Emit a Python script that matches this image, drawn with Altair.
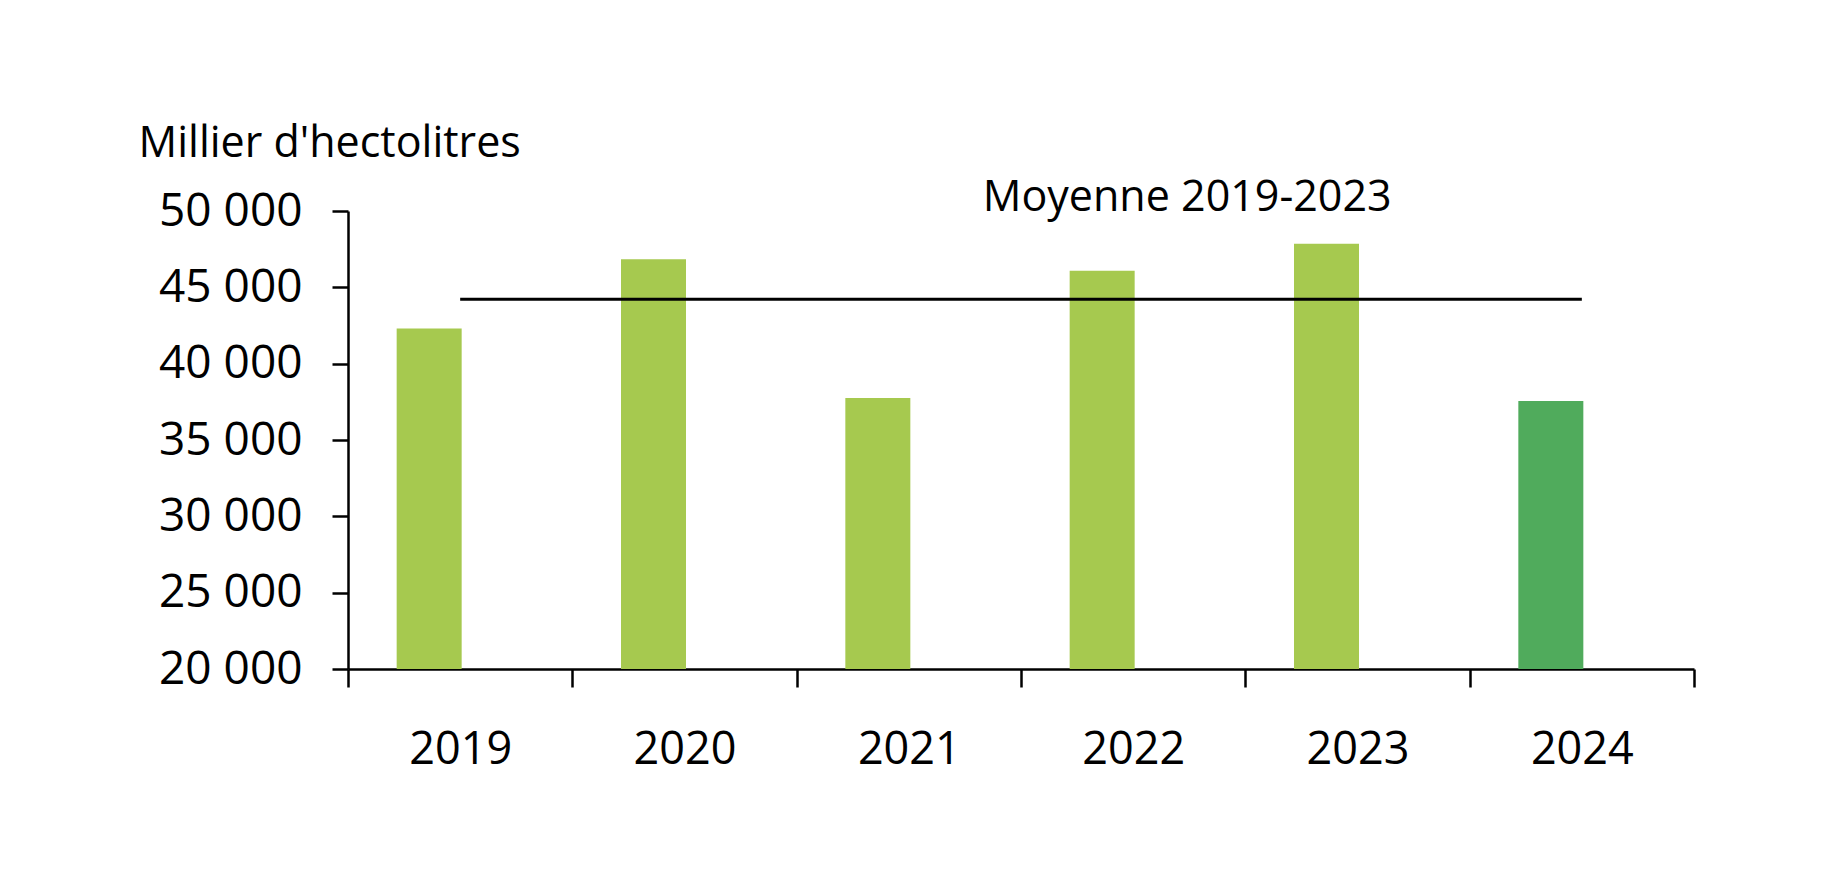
import altair as alt
import pandas as pd

years = ["2019", "2020", "2021", "2022", "2023", "2024"]
volumes = [42310, 46840, 37750, 46090, 47860, 37550]
bar_colors = ["#a6c94f", "#a6c94f", "#a6c94f", "#a6c94f", "#a6c94f", "#50ab5c"]
mean_value = 44220
mean_label = "Moyenne 2019-2023"
y_title = "Millier d'hectolitres"

FONT = "Open Sans"

df = pd.DataFrame({"year": years, "volume": volumes, "color": bar_colors})
mean_df = pd.DataFrame({"year": years, "mean": [mean_value] * len(years)})
label_df = pd.DataFrame({"year": ["2022"], "label": [mean_label]})

x = alt.X(
    "year:N",
    sort=years,
    scale=alt.Scale(paddingInner=0, paddingOuter=0),
    axis=alt.Axis(
        title=None,
        labelAngle=0,
        labelFontSize=45,
        labelFont=FONT,
        labelColor="black",
        labelPadding=40,
        tickBand="extent",
        tickSize=18,
        tickWidth=2.5,
        tickColor="black",
        domainColor="black",
        domainWidth=2.5,
        grid=False,
    ),
)

y_scale = alt.Scale(domain=[20000, 50000], nice=False, zero=False)

bars = (
    alt.Chart(df)
    .mark_bar(size=65, xOffset=-31)
    .encode(
        x=x,
        y=alt.Y(
            "volume:Q",
            scale=y_scale,
            axis=alt.Axis(
                title=y_title,
                titleAngle=0,
                titleAlign="left",
                titleBaseline="alphabetic",
                titleX=-210,
                titleY=-55,
                titleFont=FONT,
                titleFontSize=43,
                titleFontWeight="normal",
                titleColor="black",
                values=[20000, 25000, 30000, 35000, 40000, 45000, 50000],
                labelExpr="replace(format(datum.value, ','), ',', ' ')",
                labelFont=FONT,
                labelFontSize=46,
                labelColor="black",
                labelPadding=30,
                tickSize=16,
                tickWidth=2.5,
                tickColor="black",
                domainColor="black",
                domainWidth=2.5,
                grid=False,
            ),
        ),
        y2=alt.datum(20000),
        color=alt.Color("color:N", scale=None),
    )
)

line = (
    alt.Chart(mean_df)
    .mark_line(color="black", strokeWidth=3)
    .encode(x=alt.X("year:N", sort=years), y=alt.Y("mean:Q", scale=y_scale))
)

label = (
    alt.Chart(label_df)
    .mark_text(
        font=FONT,
        fontSize=43,
        color="black",
        align="center",
        baseline="alphabetic",
        dx=54,
    )
    .encode(x=alt.X("year:N", sort=years), y=alt.datum(50000), text="label:N")
)

chart = (
    alt.layer(bars, line, label)
    .properties(
        width=1346,
        height=458,
        background="white",
        autosize=alt.AutoSizeParams(type="none"),
        padding={"left": 340, "top": 203, "right": 130, "bottom": 190},
    )
    .configure_view(stroke=None, strokeWidth=0)
)

chart.save("out.html", embed_options={"renderer": "svg", "actions": False})
